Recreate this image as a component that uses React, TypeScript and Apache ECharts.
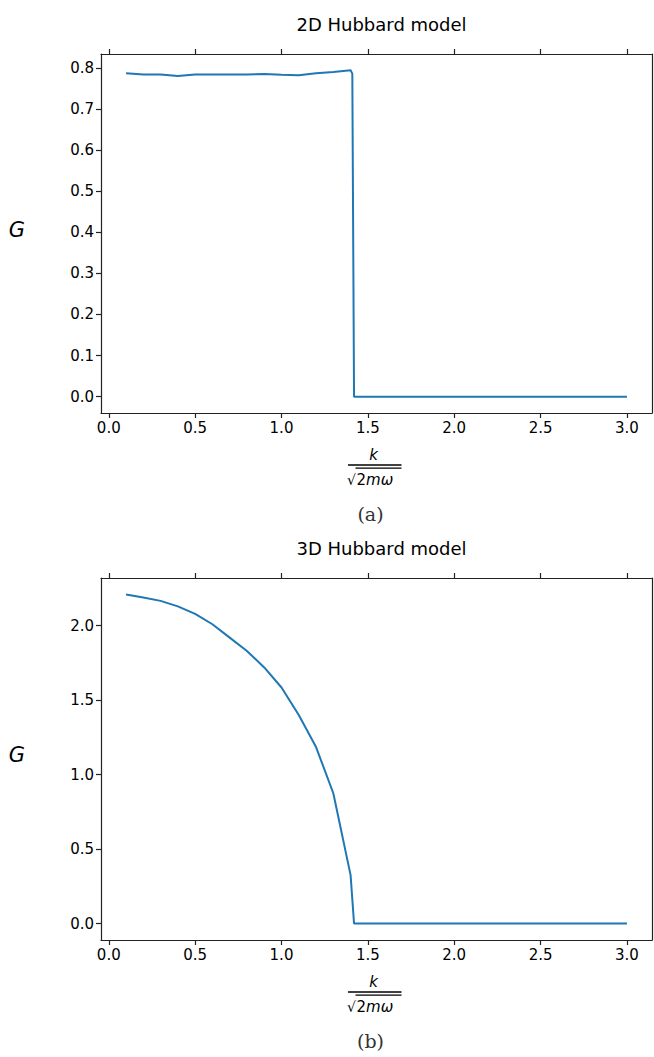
import React, { useEffect, useRef } from "react";
import * as echarts from "echarts";

// ---- data ----
const x2D = [0.1, 0.2, 0.3, 0.4, 0.5, 0.6, 0.7, 0.8, 0.9, 1.0, 1.1, 1.2, 1.3, 1.4, 1.41, 1.42,
  1.5, 1.6, 1.7, 1.8, 1.9, 2.0, 2.1, 2.2, 2.3, 2.4, 2.5, 2.6, 2.7, 2.8, 2.9, 3.0];
const g2D = [0.787, 0.784, 0.784, 0.780, 0.784, 0.784, 0.784, 0.784, 0.785, 0.783, 0.782, 0.787, 0.790, 0.794, 0.786, 0,
  0, 0, 0, 0, 0, 0, 0, 0, 0, 0, 0, 0, 0, 0, 0, 0];
const x3D = [0.1, 0.2, 0.3, 0.4, 0.5, 0.6, 0.7, 0.8, 0.9, 1.0, 1.1, 1.2, 1.3, 1.4, 1.42,
  1.5, 1.6, 1.7, 1.8, 1.9, 2.0, 2.1, 2.2, 2.3, 2.4, 2.5, 2.6, 2.7, 2.8, 2.9, 3.0];
const g3D = [2.21, 2.19, 2.167, 2.13, 2.08, 2.01, 1.92, 1.83, 1.72, 1.585, 1.40, 1.185, 0.875, 0.325, 0,
  0, 0, 0, 0, 0, 0, 0, 0, 0, 0, 0, 0, 0, 0, 0, 0];
const xTicks = [0, 0.5, 1.0, 1.5, 2.0, 2.5, 3.0];
const yTicks2D = [0, 0.1, 0.2, 0.3, 0.4, 0.5, 0.6, 0.7, 0.8];
const yTicks3D = [0, 0.5, 1.0, 1.5, 2.0];
const titles = ["2D Hubbard model", "3D Hubbard model"];
const captions = ["(a)", "(b)"];

const FONT = "DejaVu Sans";
const BLUE = "#1f77b4";

function range(vals: number[]) {
  const lo = Math.min(...vals), hi = Math.max(...vals);
  const m = (hi - lo) * 0.05;
  return [lo - m, hi + m];
}

export default function App() {
  const ref = useRef<HTMLDivElement>(null);
  useEffect(() => {
    const chart = echarts.init(ref.current!, null, { renderer: "svg" });
    const xr = range(x2D);
    const yr1 = range(g2D);
    const yr2 = range(g3D);
    const grids = [
      { left: 101, top: 54, width: 551, height: 359 },
      { left: 101, top: 578, width: 551, height: 362 },
    ];
    const axisLine = { show: true, onZero: false, lineStyle: { color: "#222", width: 1.2 } };
    const tickStyle = { show: true, length: 5, inside: false, lineStyle: { color: "#222", width: 1.2 } };
    const labelStyle = { color: "#000", fontFamily: FONT, fontSize: 15 };

    const xAxis: any[] = [];
    const yAxis: any[] = [];
    [0, 1].forEach((gi) => {
      xAxis.push({
        type: "value", gridIndex: gi, position: "bottom", min: xr[0], max: xr[1],
        axisLine, splitLine: { show: false },
        axisTick: { ...tickStyle, customValues: xTicks },
        axisLabel: { ...labelStyle, margin: 7, customValues: xTicks, formatter: (v: number) => v.toFixed(1) },
      });
      xAxis.push({
        type: "value", gridIndex: gi, position: "top", min: xr[0], max: xr[1],
        axisLine, splitLine: { show: false },
        axisTick: { ...tickStyle, customValues: xTicks },
        axisLabel: { show: false },
      });
      const yr = gi === 0 ? yr1 : yr2;
      const yt = gi === 0 ? yTicks2D : yTicks3D;
      yAxis.push({
        type: "value", gridIndex: gi, position: "left", min: yr[0], max: yr[1],
        axisLine, splitLine: { show: false },
        axisTick: { ...tickStyle, customValues: yt },
        axisLabel: { ...labelStyle, margin: 7, customValues: yt, formatter: (v: number) => v.toFixed(1) },
      });
      yAxis.push({
        type: "value", gridIndex: gi, position: "right", min: yr[0], max: yr[1],
        axisLine, splitLine: { show: false }, axisTick: { show: false }, axisLabel: { show: false },
      });
    });

    const graphic: any[] = [];
    grids.forEach((g, i) => {
      const cx = g.left + g.width / 2;
      const midY = g.top + g.height / 2;
      const bottom = g.top + g.height;
      graphic.push({
        type: "text", x: 17, y: midY - 4,
        style: { text: "G", font: `italic 21px ${FONT}`, fill: "#000", align: "center", verticalAlign: "middle" },
      });
      // fraction k / sqrt(2 m omega)
      const fy = bottom + 52;
      graphic.push({
        type: "text", x: cx - 3, y: fy - 10,
        style: { text: "k", font: `italic 15px ${FONT}`, fill: "#000", align: "center", verticalAlign: "middle" },
      });
      graphic.push({ type: "line", shape: { x1: cx - 28.5, y1: fy, x2: cx + 25, y2: fy }, style: { stroke: "#000", lineWidth: 1.6 } });
      graphic.push({ type: "line", shape: { x1: cx - 21, y1: fy + 3.2, x2: cx + 25, y2: fy + 3.2 }, style: { stroke: "#000", lineWidth: 1.2 } });
      graphic.push({
        type: "text", x: cx - 25, y: fy + 15,
        style: { text: "√", font: `14px ${FONT}`, fill: "#000", align: "center", verticalAlign: "middle" },
      });
      graphic.push({
        type: "text", x: cx - 20, y: fy + 15,
        style: {
          text: "{n|2}{i|mω}", align: "left", verticalAlign: "middle",
          rich: {
            n: { font: `15px ${FONT}`, fill: "#000" },
            i: { font: `italic 15px ${FONT}`, fill: "#000" },
          },
        },
      });
      graphic.push({
        type: "text", x: cx - 6, y: fy + 49,
        style: { text: captions[i], font: `19px "DejaVu Serif"`, fill: "#333", align: "center", verticalAlign: "middle" },
      });
    });

    chart.setOption({
      animation: false,
      backgroundColor: "#fff",
      title: grids.map((g, i) => ({
        text: titles[i], left: g.left + g.width / 2, top: g.top - 44, textAlign: "center",
        textStyle: { fontFamily: FONT, fontSize: 18, fontWeight: "normal", color: "#000" },
      })),
      grid: grids.map((g) => ({ ...g, show: false })),
      xAxis, yAxis,
      series: [
        {
          type: "line", xAxisIndex: 0, yAxisIndex: 0, showSymbol: false,
          data: x2D.map((x, i) => [x, g2D[i]]),
          lineStyle: { color: BLUE, width: 2 }, itemStyle: { color: BLUE },
        },
        {
          type: "line", xAxisIndex: 2, yAxisIndex: 2, showSymbol: false,
          data: x3D.map((x, i) => [x, g3D[i]]),
          lineStyle: { color: BLUE, width: 2 }, itemStyle: { color: BLUE },
        },
      ],
      graphic,
    });
    return () => chart.dispose();
  }, []);
  return <div ref={ref} style={{ position: "fixed", left: 0, top: 0, width: 654, height: 1057 }} />;
}
